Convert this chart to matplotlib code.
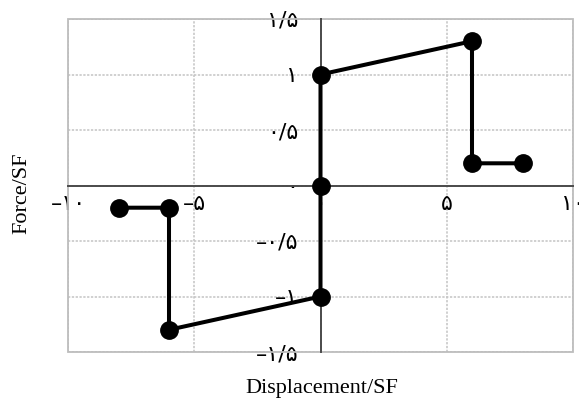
import matplotlib
matplotlib.use("Agg")
import matplotlib.pyplot as plt
from matplotlib.patches import Rectangle

# Data
disp = [8, 6, 6, 0, 0, 0, -6, -6, -8]
force = [0.2, 0.2, 1.3, 1.0, 0.0, -1.0, -1.3, -0.2, -0.2]

xticks = [-10, -5, 0, 5, 10]
xticklabels = ["–۱۰", "–۵", "۰", "۵", "۱۰"]
yticks = [-1.5, -1.0, -0.5, 0.0, 0.5, 1.0, 1.5]
yticklabels = ["–۱/۵", "–۱", "–۰/۵", "۰", "۰/۵", "۱", "۱/۵"]

xlabel = "Displacement/SF"
ylabel = "Force/SF"

serif = ["Liberation Serif", "DejaVu Sans"]
digits = ["DejaVu Sans"]

fig = plt.figure(figsize=(5.79, 4.03), dpi=100)
ax = fig.add_axes([68/579, 1-352/403, (573-68)/579, (352-19)/403])

ax.set_xlim(-10, 10)
ax.set_ylim(-1.5, 1.5)

# grid
ax.set_xticks(xticks)
ax.set_yticks(yticks)
ax.grid(True, color="#c4c4c4", linestyle=(0, (1.5, 1)), linewidth=1.1)
ax.set_axisbelow(True)

# frame
for s in ["top", "right"]:
    ax.spines[s].set_visible(False)
ax.add_patch(Rectangle((0, 0), 1, 1, transform=ax.transAxes, fill=False,
                       edgecolor="#bdbdbd", linewidth=1.3, zorder=1, clip_on=False))

# centered axes
ax.spines["left"].set_position(("data", 0))
ax.spines["bottom"].set_position(("data", 0))
for s in ["left", "bottom"]:
    ax.spines[s].set_color("#4a4a4a")
    ax.spines[s].set_linewidth(1.4)
    ax.spines[s].set_zorder(2)

ax.set_xticklabels(xticklabels, family=digits, fontsize=16)
ax.set_yticklabels(yticklabels, family=digits, fontsize=16)
ax.tick_params(axis="both", length=0)
ax.tick_params(axis="x", pad=6)
ax.tick_params(axis="y", pad=16)

ax.plot(disp, force, color="black", linewidth=2.9, marker="o", markersize=12.5,
        zorder=5, clip_on=False)

fig.text(322/579, 0.037, xlabel, ha="center", va="center", fontsize=16, family=serif)
fig.text(22/579, 0.521, ylabel, ha="center", va="center", rotation=90, fontsize=16, family=serif)

fig.savefig("out.png", dpi=100)
